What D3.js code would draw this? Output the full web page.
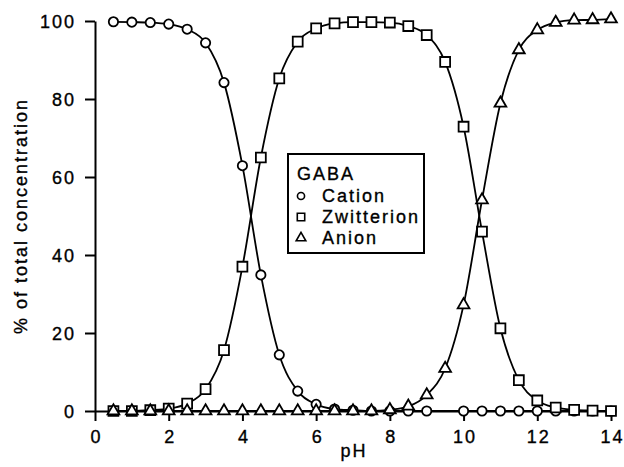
<!DOCTYPE html>
<html>
<head>
<meta charset="utf-8">
<script src="https://cdn.jsdelivr.net/npm/d3@7"></script>
<style>
  html, body { margin: 0; padding: 0; background: #fff; }
  svg { display: block; }
  text { font-family: "Liberation Sans", Arial, Helvetica, sans-serif; fill: #000; stroke: #000; stroke-width: 0.35px; }
</style>
</head>
<body>
<svg id="chart" width="624" height="467"></svg>
<script>
// ---- data ----
const pH = [0.5,1,1.5,2,2.5,3,3.5,4,4.5,5,5.5,6,6.5,7,7.5,8,8.5,9,9.5,10,10.5,11,11.5,12,12.5,13,13.5,14];
const cation     = [99.8,99.7,99.6,99.2,97.9,94.4,84.2,62.9,34.9,14.4,5.1,1.7,0.5,0.2,0,0,0,0,null,0,0,0,0,0,0,0,0,0];
const zwitterion = [0,0,0.2,0.6,1.9,5.6,15.6,37,65,85.3,94.7,98.1,99.4,99.7,99.7,99.6,98.7,96.4,89.5,72.9,46,21.2,7.9,2.7,0.9,0.3,0.1,0];
const anion      = [0,0,0,0,0,0,0,0,0,0,0,0,0,0,0,0.3,1.2,4.1,10.9,27.2,54.1,78.9,92.6,97.7,99.6,100.2,100.3,100.5];
const xTicks = [0,2,4,6,8,10,12,14];
const yTicks = [0,20,40,60,80,100];
const legendTitle = "GABA";
const seriesNames = ["Cation","Zwitterion","Anion"];
const xLabel = "pH";
const yLabel = "% of total concentration";

// ---- layout ----
const svg = d3.select("#chart");
const x = d3.scaleLinear().domain([0,14]).range([95,611]);
const y = d3.scaleLinear().domain([0,100]).range([411,21]);
const FONT = 18, LS = 2;

// axes
const xAxis = svg.append("g").attr("transform", `translate(0,${y(0)})`)
  .call(d3.axisBottom(x).tickValues(xTicks).tickSize(10).tickSizeOuter(0).tickPadding(9).tickFormat(d3.format("d")));
const yAxis = svg.append("g").attr("transform", `translate(${x(0)},0)`)
  .call(d3.axisLeft(y).tickValues(yTicks).tickSize(10).tickSizeOuter(0).tickPadding(11).tickFormat(d3.format("d")));
[xAxis, yAxis].forEach(g => {
  g.selectAll("path.domain").attr("stroke", "#000").attr("stroke-width", 2);
  g.selectAll(".tick line").attr("stroke", "#000").attr("stroke-width", 2);
  g.selectAll(".tick text").attr("font-size", FONT).attr("letter-spacing", LS)
    .attr("font-family", '"Liberation Sans", Arial, Helvetica, sans-serif').attr("fill", "#000");
});
xAxis.selectAll(".tick text").attr("dx", LS/2);
yAxis.selectAll(".tick text").attr("dx", LS).attr("dy", "0.36em");

// axis titles
svg.append("text").attr("x", (x(0)+x(14))/2 + 1).attr("y", 457)
  .attr("text-anchor", "middle").attr("font-size", FONT).attr("letter-spacing", LS).text(xLabel);
svg.append("text").attr("transform", `translate(27,${(y(0)+y(100))/2}) rotate(-90)`)
  .attr("text-anchor", "middle").attr("font-size", FONT).attr("letter-spacing", LS).text(yLabel);

// series
const symbols = [d3.symbolCircle, d3.symbolSquare, d3.symbolTriangle];
const sizes = [68, 98, 60];
const seriesData = [cation, zwitterion, anion];
const line = d3.line().x(d => x(d[0])).y(d => y(d[1])).curve(d3.curveMonotoneX);

seriesData.forEach((vals, i) => {
  const pts = pH.map((p, k) => [p, vals[k]]).filter(d => d[1] !== null);
  const g = svg.append("g");
  g.append("path").datum(pts).attr("d", line)
    .attr("fill", "none").attr("stroke", "#000").attr("stroke-width", 1.8);
  g.selectAll("path.pt").data(pts).join("path").attr("class", "pt")
    .attr("transform", d => `translate(${x(d[0])},${y(d[1])})`)
    .attr("d", d3.symbol().type(symbols[i]).size(sizes[i]))
    .attr("fill", "#fff").attr("stroke", "#000").attr("stroke-width", 1.8);
});

// legend
const lg = svg.append("g");
lg.append("rect").attr("x", 288).attr("y", 154).attr("width", 136).attr("height", 99)
  .attr("fill", "#fff").attr("stroke", "#000").attr("stroke-width", 2);
lg.append("text").attr("x", 297).attr("y", 180).attr("font-size", FONT).attr("letter-spacing", LS).text(legendTitle);
const legSizes = [40, 55, 40];
seriesNames.forEach((name, i) => {
  const by = 202 + i * 21;
  lg.append("path").attr("transform", `translate(301,${by - 6})`)
    .attr("d", d3.symbol().type(symbols[i]).size(legSizes[i]))
    .attr("fill", "#fff").attr("stroke", "#000").attr("stroke-width", 1.6);
  lg.append("text").attr("x", 322).attr("y", by).attr("font-size", FONT).attr("letter-spacing", LS).text(name);
});
</script>
</body>
</html>
